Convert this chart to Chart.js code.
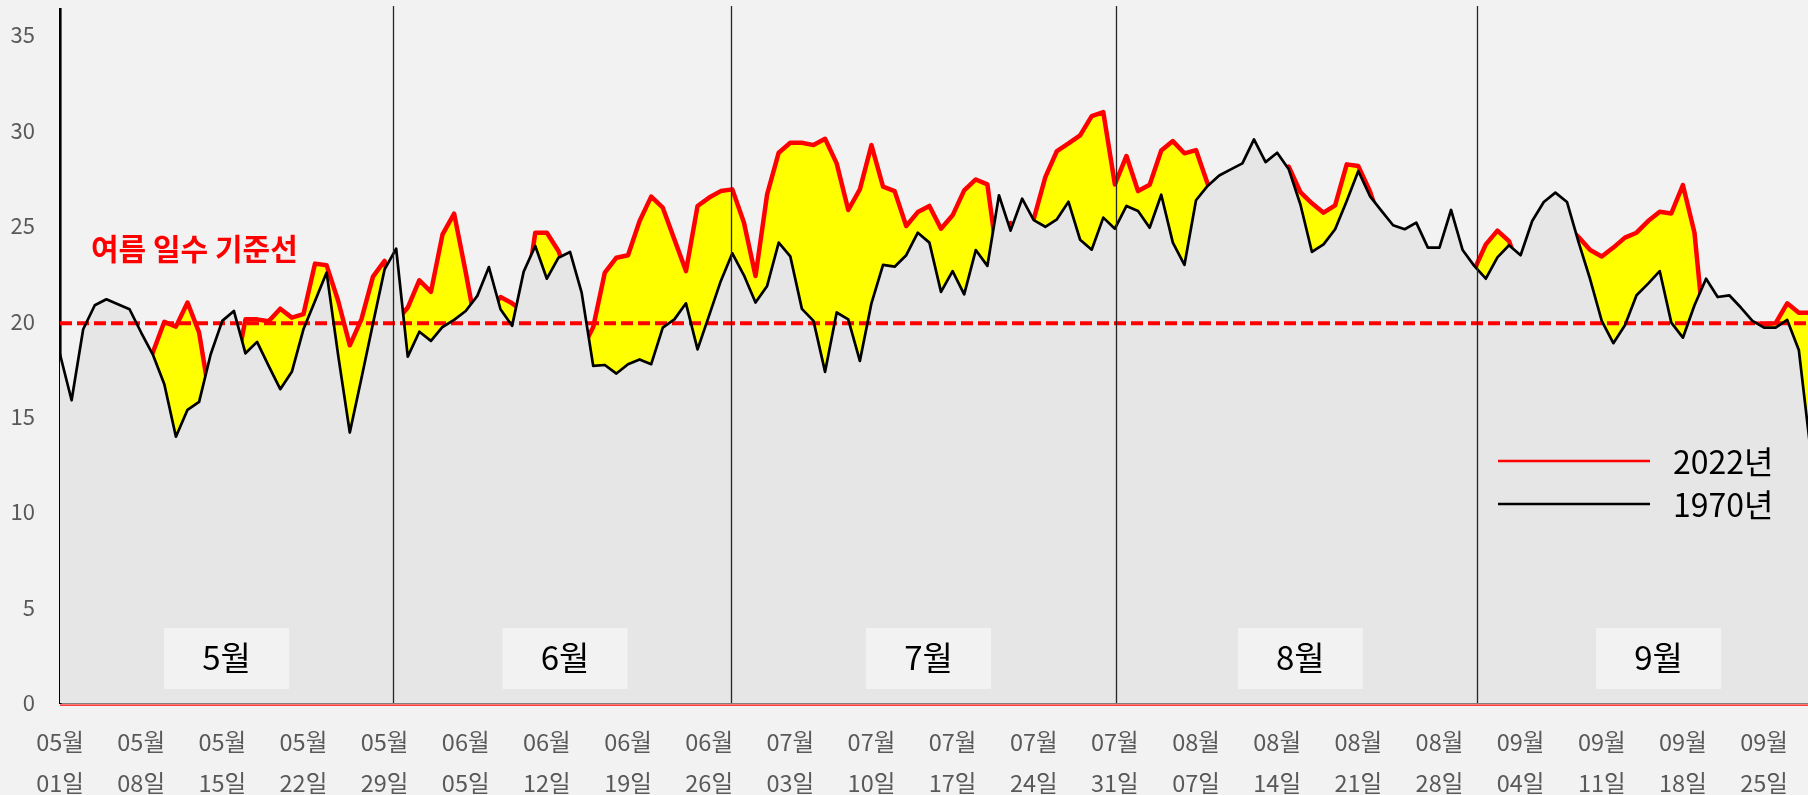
<!DOCTYPE html>
<html>
<head>
<meta charset="utf-8">
<script src="https://cdn.jsdelivr.net/npm/chart.js@4.4.1/dist/chart.umd.min.js"></script>
<style>
  html, body { margin: 0; padding: 0; background: #f2f2f2; overflow: hidden; }
  #wrap { width: 1825px; height: 795px; }
  canvas { display: block; }
</style>
</head>
<body>
<div id="wrap"><canvas id="c" width="1825" height="795"></canvas></div>
<script>
// ---- categories (daily, 05/01 - 09/30) ----
const monthCodes = ['05', '06', '07', '08', '09'];
const monthLengths = [31, 30, 31, 31, 30];
const categories = [];
monthCodes.forEach((m, i) => {
  for (let d = 1; d <= monthLengths[i]; d++) {
    categories.push([m + '월', String(d).padStart(2, '0') + '일']);
  }
});

// ---- series values (°C) ----
const data1970 = [
  18.27, 15.86, 19.58, 20.84, 21.15, 20.89, 20.63, 19.41, 18.27, 16.7,
  13.95, 15.36, 15.78, 18.27, 20.02, 20.54, 18.32, 18.92, 17.66, 16.44,
  17.35, 19.58, 21.06, 22.55, 18.2, 14.17, 17.0, 19.88, 22.72, 23.8,
  18.15, 19.45, 18.97, 19.7, 20.07, 20.54, 21.33, 22.84, 20.63, 19.76,
  22.6, 23.94, 22.23, 23.33, 23.63, 21.5, 17.66, 17.71, 17.26, 17.75,
  18.0, 17.75, 19.67, 20.1, 20.94, 18.53, 20.31, 22.1, 23.56, 22.41,
  20.98, 21.85, 24.12, 23.4, 20.65, 20.02, 17.35, 20.46, 20.1, 17.92,
  20.94, 22.95, 22.86, 23.46, 24.64, 24.12, 21.54, 22.63, 21.41, 23.73,
  22.9, 26.6, 24.75, 26.42, 25.3, 24.95, 25.34, 26.26, 24.27, 23.75,
  25.43, 24.85, 26.04, 25.78, 24.9, 26.63, 24.12, 22.95, 26.34, 27.09,
  27.64, 27.96, 28.27, 29.53, 28.34, 28.83, 27.96, 26.13, 23.63, 24.03,
  24.82, 26.3, 27.87, 26.56, 25.78, 25.03, 24.82, 25.17, 23.86, 23.86,
  25.83, 23.73, 22.9, 22.23, 23.35, 23.98, 23.46, 25.25, 26.25, 26.74,
  26.25, 24.15, 22.2, 20.02, 18.85, 19.79, 21.36, 21.97, 22.63, 19.93,
  19.14, 20.84, 22.23, 21.27, 21.36, 20.72, 20.02, 19.67, 19.67, 20.07,
  18.5, 13.3, 14.0
];
const data2022 = [
  16.0, 14.5, 16.5, 18.0, 18.5, 18.0, 17.5, 17.3, 18.35, 19.97,
  19.72, 20.98, 19.41, 15.7, 17.0, 17.0, 20.1, 20.1, 20.0, 20.66,
  20.19, 20.37, 23.02, 22.93, 21.06, 18.74, 20.1, 22.34, 23.16, 20.0,
  20.72, 22.15, 21.54, 24.55, 25.64, 22.57, 19.3, 20.5, 21.27, 20.94,
  20.5, 24.64, 24.64, 23.68, 22.0, 18.5, 19.7, 22.55, 23.33, 23.46,
  25.25, 26.53, 25.95, 24.29, 22.63, 26.04, 26.48, 26.82, 26.91, 25.17,
  22.37, 26.65, 28.83, 29.35, 29.35, 29.23, 29.56, 28.27, 25.83, 26.91,
  29.23, 27.05, 26.82, 24.99, 25.72, 26.04, 24.85, 25.55, 26.86, 27.43,
  27.17, 22.7, 25.15, 24.5, 25.35, 27.55, 28.92, 29.32, 29.74, 30.75,
  30.96, 27.17, 28.66, 26.82, 27.15, 28.95, 29.44, 28.8, 28.97, 27.2,
  26.0, 26.5, 27.0, 27.5, 27.3, 27.0, 28.1, 26.77, 26.18, 25.69,
  26.07, 28.22, 28.13, 26.82, 25.0, 24.2, 23.5, 24.0, 22.8, 22.5,
  23.5, 22.5, 22.7, 24.03, 24.75, 24.2, 22.5, 23.5, 24.5, 25.0,
  25.0, 24.41, 23.73, 23.39, 23.86, 24.38, 24.64, 25.25, 25.74, 25.65,
  27.14, 24.64, 18.4, 19.0, 19.3, 19.0, 19.9, 19.85, 19.9, 20.94,
  20.45, 20.45, 20.3
];
const thresholdValue = 19.9;
const thresholdLabel = '여름 일수 기준선';
const seriesNames = ['2022년', '1970년'];
const yTickValues = [0, 5, 10, 15, 20, 25, 30, 35];
const monthNames = ['5월', '6월', '7월', '8월', '9월'];
const tickEvery = 7;

// ---- decoration anchors (fractional category index) ----
const monthDividers = [28.73, 57.9, 91.1, 122.2];
const monthBoxCenters = [14.37, 43.57, 74.93, 107.0, 137.9];

const thresholdLine = categories.map(() => thresholdValue);
const FONT = '"Noto Sans CJK KR", "Noto Sans", sans-serif';

function zeroPad(s) {
  s.paddingTop = 0; s.paddingBottom = 0; s.paddingLeft = 0; s.paddingRight = 0;
}

const overlay = {
  id: 'overlay',
  afterDatasetsDraw(chart) {
    const { ctx, chartArea, scales: { x } } = chart;
    ctx.save();
    // month divider lines
    ctx.strokeStyle = '#262626';
    ctx.lineWidth = 1.3;
    monthDividers.forEach(v => {
      const px = Math.round(x.getPixelForValue(v)) + 0.5;
      ctx.beginPath();
      ctx.moveTo(px, chartArea.top - 3);
      ctx.lineTo(px, chartArea.bottom);
      ctx.stroke();
    });
    // month boxes
    ctx.font = '33px ' + FONT;
    ctx.textAlign = 'center';
    ctx.textBaseline = 'middle';
    monthBoxCenters.forEach((v, i) => {
      const cx = x.getPixelForValue(v);
      ctx.fillStyle = '#f2f2f2';
      ctx.fillRect(cx - 62.5, chartArea.bottom - 75, 125, 61);
      ctx.fillStyle = '#000000';
      ctx.fillText(monthNames[i], cx, chartArea.bottom - 46);
    });
    // threshold label
    ctx.fillStyle = '#ff0000';
    ctx.font = 'bold 30px ' + FONT;
    ctx.textAlign = 'left';
    ctx.fillText(thresholdLabel, 91, 249);
    // legend
    const legendColors = ['#ff0000', '#000000'];
    const legendY = [461, 504];
    ctx.font = '32px ' + FONT;
    seriesNames.forEach((name, i) => {
      ctx.strokeStyle = legendColors[i];
      ctx.lineWidth = 2.7;
      ctx.beginPath();
      ctx.moveTo(1498, legendY[i]);
      ctx.lineTo(1650, legendY[i]);
      ctx.stroke();
      ctx.fillStyle = '#000000';
      ctx.fillText(name, 1673, legendY[i] + 1);
    });
    ctx.restore();
  },
  afterDraw(chart) {
    const { ctx, chartArea } = chart;
    ctx.save();
    ctx.strokeStyle = '#ff0000';
    ctx.lineWidth = 1.2;
    ctx.beginPath();
    ctx.moveTo(chartArea.left, chartArea.bottom + 2.2);
    ctx.lineTo(chartArea.right, chartArea.bottom + 2.2);
    ctx.stroke();
    ctx.restore();
  }
};

new Chart(document.getElementById('c'), {
  type: 'line',
  data: {
    labels: categories,
    datasets: [
      {
        label: seriesNames[0],
        data: data2022,
        borderColor: '#ff0000',
        borderWidth: 4.5,
        backgroundColor: '#ffff00',
        fill: 'origin',
        pointRadius: 0,
        tension: 0,
        clip: 0,
        borderJoinStyle: 'round',
        borderCapStyle: 'round',
        order: 4
      },
      {
        label: 'area1970',
        data: data1970,
        borderWidth: 0,
        borderColor: 'rgba(0,0,0,0)',
        backgroundColor: '#e6e6e6',
        fill: 'origin',
        pointRadius: 0,
        tension: 0,
        clip: 0,
        order: 3
      },
      {
        label: thresholdLabel,
        data: thresholdLine,
        borderColor: '#ff0000',
        borderWidth: 4,
        borderDash: [12, 5],
        fill: false,
        pointRadius: 0,
        clip: 0,
        order: 2
      },
      {
        label: seriesNames[1],
        data: data1970,
        borderColor: '#000000',
        borderWidth: 2.7,
        fill: false,
        pointRadius: 0,
        tension: 0,
        clip: 0,
        borderJoinStyle: 'round',
        borderCapStyle: 'round',
        order: 1
      }
    ]
  },
  options: {
    responsive: false,
    animation: false,
    devicePixelRatio: 1,
    layout: { padding: { top: 9, right: 3, left: 0, bottom: 0 } },
    plugins: {
      legend: { display: false },
      tooltip: { enabled: false }
    },
    scales: {
      x: {
        type: 'category',
        offset: false,
        z: 1,
        grid: { display: false, drawTicks: false },
        border: { display: true, color: '#7f7f7f', width: 2 },
        ticks: {
          autoSkip: false,
          maxRotation: 0,
          minRotation: 0,
          padding: 18,
          color: '#595959',
          font: { family: FONT, size: 23.5, lineHeight: 1.75 },
          callback: (v, i) => (i % tickEvery === 0 ? categories[i] : '')
        },
        afterFit: s => { s.height = 92; zeroPad(s); }
      },
      y: {
        min: 0,
        max: 36.36,
        z: 1,
        grid: { display: false, drawTicks: false },
        border: { display: true, color: '#000000', width: 2.6 },
        ticks: {
          padding: 25,
          color: '#595959',
          font: { family: FONT, size: 22 }
        },
        afterBuildTicks: s => { s.ticks = yTickValues.map(v => ({ value: v })); },
        afterFit: s => { s.width = 60; zeroPad(s); }
      }
    }
  },
  plugins: [overlay]
});
</script>
</body>
</html>
